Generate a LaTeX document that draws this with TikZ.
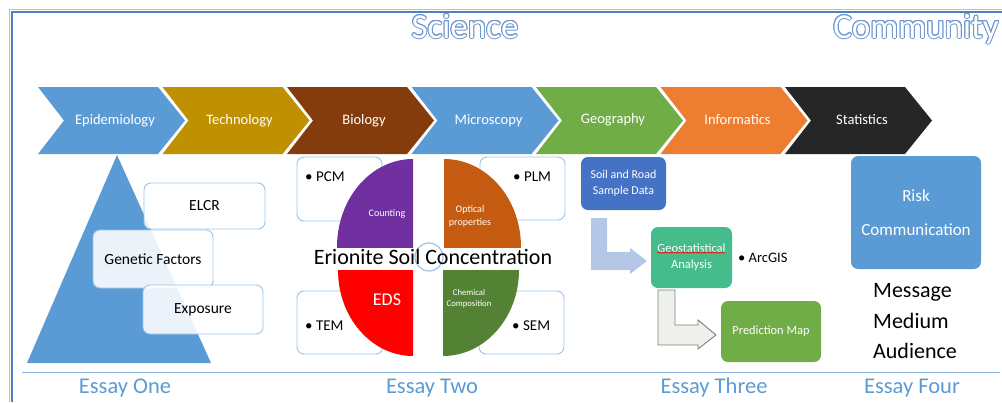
\documentclass[tikz,border=0pt]{standalone}
\usepackage{fontspec}
\setmainfont{Carlito}
\usepackage{contour}
\usetikzlibrary{decorations.pathmorphing}
\definecolor{cBlue}{HTML}{5B9BD5}
\definecolor{cGold}{HTML}{BF9000}
\definecolor{cBrown}{HTML}{843C0C}
\definecolor{cGreen}{HTML}{70AD47}
\definecolor{cOrange}{HTML}{ED7D31}
\definecolor{cBlack}{HTML}{262626}
\definecolor{cFrame}{HTML}{4F81BD}
\definecolor{cFrameL}{HTML}{A9C4E4}
\definecolor{cLine}{HTML}{8DB3E2}
\definecolor{cBoxEdge}{HTML}{9DC3E6}
\definecolor{cPurple}{HTML}{7030A0}
\definecolor{cRust}{HTML}{C55A11}
\definecolor{cRed}{HTML}{FF0000}
\definecolor{cDGreen}{HTML}{548235}
\definecolor{cNavy}{HTML}{4472C4}
\definecolor{cTeal}{HTML}{44BC8C}
\definecolor{cArrowA}{HTML}{B4C7E7}
\definecolor{cArrowB}{HTML}{EEF0EB}
\definecolor{cArrowEdge}{HTML}{7F7F7F}
\definecolor{cOutline}{HTML}{6F98CF}
\newcommand\fsz[2]{\fontsize{#1}{#2}\selectfont}
\contourlength{1pt}
\tikzset{
  chevtext/.style={text=white, font=\fsz{14.5}{17}},
  whitebox/.style={draw=cBoxEdge, line width=0.9pt, fill=white, fill opacity=0.88, text opacity=1, rounded corners=7pt, inner sep=0pt, font=\fsz{15.5}{18}},
  plainbox/.style={draw=cBoxEdge, line width=0.9pt, fill=white, rounded corners=7pt, inner sep=0pt},
  colbox/.style={rounded corners=7pt, inner sep=0pt, text=white, align=center},
  essay/.style={text=cBlue, font=\fsz{22.5}{26}, anchor=base},
  bullettext/.style={font=\fsz{15}{18}, anchor=base west, inner sep=0pt},
  quadtext/.style={text=white, align=center, inner sep=0pt},
}
\begin{document}
\begin{tikzpicture}[x=1pt,y=-1pt]
\useasboundingbox (0,0) rectangle (1002,402);
% frame
\draw[cFrameL, line width=1pt] (9.5,402) -- (9.5,9.5) -- (1002,9.5);
\draw[cFrame, line width=1.2pt] (12,402) -- (12,12) -- (1002,12);
\draw[cLine, line width=1pt] (22,372) -- (1000,372);
% titles
\node[anchor=base, inner sep=0pt, font=\fsz{35}{40}] (science) at (465,38) {\contour{cOutline}{\textcolor{white}{Science}}};
\node[anchor=base, inner sep=0pt, font=\fsz{35}{40}] (community) at (916,38) {\contour{cOutline}{\textcolor{white}{Community}}};
% chevrons
\foreach \i/\xo/\ty/\col/\lab in {1/38/121/cBlue/Epidemiology, 2/162.5/121/cGold/Technology, 3/287/121/cBrown/Biology, 4/411.5/121/cBlue/Microscopy, 5/536/119.5/cGreen/Geography, 6/660.5/119.5/cOrange/Informatics, 7/785/119.5/cBlack/Statistics}{
  \fill[\col] (\xo,87) -- ++(120,0) -- ++(27,33.5) -- ++(-27,33.5) -- ++(-120,0) -- ++(26,-33.5) -- cycle;
  \node[chevtext] (chev\i) at (\xo+77,\ty) {\lab};
}
% Essay One
\fill[cBlue] (117,155) -- (211,363) -- (27,363) -- cycle;
\node[whitebox, minimum width=121pt, minimum height=46pt] (elcr) at (204.5,206) {ELCR};
\node[whitebox, minimum width=120pt, minimum height=58pt] (genetic) at (153,259) {Genetic Factors};
\node[whitebox, minimum width=120pt, minimum height=49pt] (exposure) at (203,309.5) {Exposure};
\node[essay] (essay1) at (125,393) {Essay One};
% Essay Two boxes
\node[plainbox, minimum width=85pt, minimum height=64pt] (pcmbox) at (339.5,189) {};
\node[plainbox, minimum width=85pt, minimum height=63pt] (plmbox) at (522.5,188.5) {};
\node[plainbox, minimum width=86pt, minimum height=63pt] (tembox) at (340,322.5) {};
\node[plainbox, minimum width=85pt, minimum height=63pt] (sembox) at (521.5,322.5) {};
\node[bullettext] (pcm) at (305,181) {\textbullet\ PCM};
\node[bullettext] (plm) at (513,181) {\textbullet\ PLM};
\node[bullettext] (tem) at (305,330) {\textbullet\ TEM};
\node[bullettext] (sem) at (512,330) {\textbullet\ SEM};
% centre circle
\draw[cBoxEdge, line width=1.2pt] (429,257) circle[radius=14];
% quadrants
\begin{scope}\clip (337,158) rectangle (413,247); \fill[cPurple] (413,247) ellipse[x radius=76, y radius=88]; \end{scope}
\begin{scope}\clip (444,158) rectangle (521,247); \fill[cRust] (444,247) ellipse[x radius=77, y radius=88]; \end{scope}
\begin{scope}\clip (337,270) rectangle (413,356); \fill[cRed] (413,270) ellipse[x radius=75, y radius=86]; \end{scope}
\begin{scope}\clip (443,270) rectangle (520,356); \fill[cDGreen] (443,270) ellipse[x radius=76, y radius=86]; \end{scope}
\node[quadtext, font=\fsz{10}{13}] (counting) at (387,214) {Counting};
\node[quadtext, font=\fsz{10}{13}] (optical) at (470,216.5) {Optical\\properties};
\node[quadtext, font=\fsz{18}{20}, anchor=base] (eds) at (387,305) {EDS};
\node[quadtext, font=\fsz{8.7}{11}] (chemical) at (469,298.5) {Chemical\\Composition};
\node[anchor=base, inner sep=0pt, font=\fsz{22}{26}] (erionite) at (433,264) {Erionite Soil Concentration};
\node[essay] (essay2) at (432,393) {Essay Two};
% Essay Three
\node[colbox, fill=cNavy, minimum width=85pt, minimum height=53pt, font=\fsz{12}{16}] (soil) at (623.5,183.5) {Soil and Road\\Sample Data};
\fill[cArrowA] (591,218) -- (607,218) -- (607,252) -- (630,252) -- (630,248) -- (647,261) -- (630,274) -- (630,270) -- (591,270) -- cycle;
\node[colbox, fill=cTeal, minimum width=81pt, minimum height=61pt, font=\fsz{12.5}{16}] (geo) at (691.5,257.5) {Geostatistical\\Analysis};
\draw[red, line width=0.6pt, decorate, decoration={snake, amplitude=0.7pt, segment length=2.5pt}] (657,252.5) -- (725,252.5);
\node[bullettext, font=\fsz{14.5}{17}] (arcgis) at (738,262) {\textbullet\ ArcGIS};
\filldraw[fill=cArrowB, draw=cArrowEdge, line width=0.9pt] (658,290) -- (675,290) -- (675,325) -- (698,325) -- (698,320) -- (716,335) -- (698,349) -- (698,345) -- (658,345) -- cycle;
\node[colbox, fill=cGreen, minimum width=100pt, minimum height=61pt, font=\fsz{12.4}{15}] (pred) at (771,331.5) {Prediction Map};
\node[essay] (essay3) at (714,393) {Essay Three};
% Essay Four
\node[colbox, fill=cBlue, minimum width=130pt, minimum height=113pt, font=\fsz{17}{34}] (risk) at (916,212.5) {Risk\\Communication};
\node[anchor=base west, inner sep=0pt, font=\fsz{22}{26}] (message) at (873,297) {Message};
\node[anchor=base west, inner sep=0pt, font=\fsz{22}{26}] (medium) at (873,328) {Medium};
\node[anchor=base west, inner sep=0pt, font=\fsz{22}{26}] (audience) at (873,358) {Audience};
\node[essay] (essay4) at (912,393) {Essay Four};
\end{tikzpicture}
\end{document}
